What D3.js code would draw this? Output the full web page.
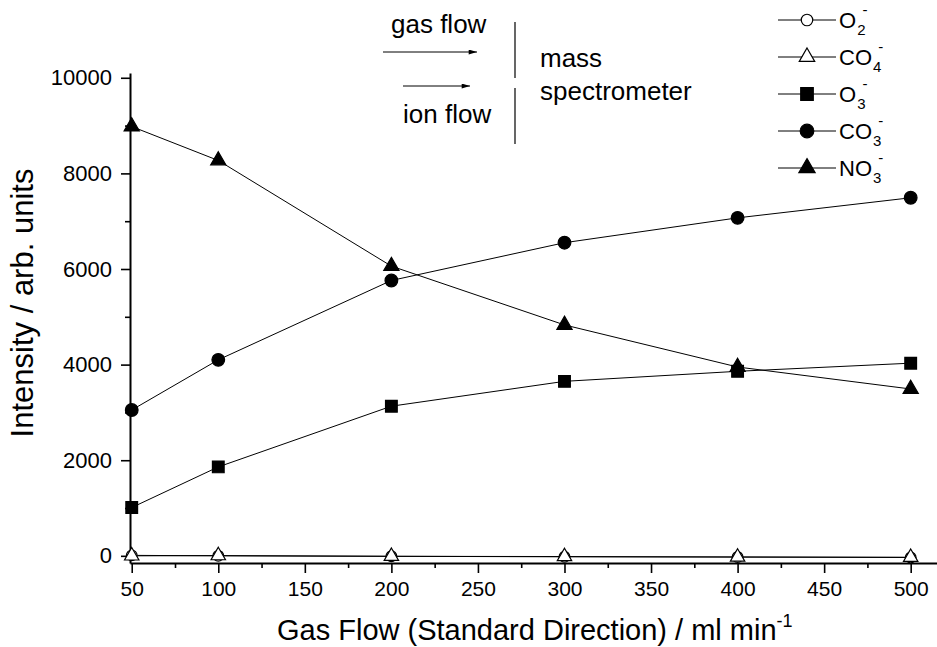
<!DOCTYPE html>
<html>
<head>
<meta charset="utf-8">
<script src="https://cdn.jsdelivr.net/npm/d3@7"></script>
<style>
  body { margin: 0; background: #fff; }
  text { font-family: "Liberation Sans", Arial, sans-serif; fill: #000; }
</style>
</head>
<body>
<div id="chart"></div>
<script>
// data
var gasFlow = [50, 100, 200, 300, 400, 500];
var o2  = [10, 0, -10, -20, -25, -35];
var co4 = [0, 5, -10, -15, -25, -30];
var o3  = [1010, 1860, 3130, 3650, 3860, 4030];
var co3 = [3050, 4100, 5760, 6550, 7070, 7490];
var no3 = [8980, 8270, 6060, 4830, 3950, 3490];

var xMajor = [50, 100, 150, 200, 250, 300, 350, 400, 450, 500];
var xMinor = [75, 125, 175, 225, 275, 325, 375, 425, 475];
var yMajor = [0, 2000, 4000, 6000, 8000, 10000];
var yMinor = [1000, 3000, 5000, 7000, 9000];

var width = 937, height = 647;

var svg = d3.select("#chart").append("svg")
    .attr("width", width)
    .attr("height", height);

var x = d3.scaleLinear().domain([49, 515.2]).range([130, 937]);
var y = d3.scaleLinear().domain([-150, 10100]).range([563, 73]);

// series in legend order
var series = [
  {name: "O",  sub: "2", sym: d3.symbolCircle,   size: 90,  filled: false, values: o2},
  {name: "CO", sub: "4", sym: d3.symbolTriangle, size: 90,  filled: false, values: co4},
  {name: "O",  sub: "3", sym: d3.symbolSquare,   size: 137, filled: true,  values: o3},
  {name: "CO", sub: "3", sym: d3.symbolCircle,   size: 126, filled: true,  values: co3},
  {name: "NO", sub: "3", sym: d3.symbolTriangle, size: 100, filled: true,  values: no3}
];

// axes
var xAxis = svg.append("g")
    .attr("transform", "translate(0," + y.range()[0] + ")")
    .call(d3.axisBottom(x).tickValues(xMajor).tickSize(10).tickSizeOuter(0).tickPadding(8));
xAxis.selectAll(".tick text").style("font-size", "21px");

svg.append("g")
    .attr("transform", "translate(0," + y.range()[0] + ")")
    .call(d3.axisBottom(x).tickValues(xMinor).tickSize(5).tickSizeOuter(0).tickFormat(""))
    .select(".domain").remove();

var yAxis = svg.append("g")
    .attr("transform", "translate(" + x.range()[0] + ",0)")
    .call(d3.axisLeft(y).tickValues(yMajor).tickSize(9).tickSizeOuter(0).tickPadding(9).tickFormat(d3.format("d")));
yAxis.selectAll(".tick text").style("font-size", "22px");

svg.append("g")
    .attr("transform", "translate(" + x.range()[0] + ",0)")
    .call(d3.axisLeft(y).tickValues(yMinor).tickSize(5).tickSizeOuter(0).tickFormat(""))
    .select(".domain").remove();

svg.selectAll(".domain").attr("stroke-width", 2);
svg.selectAll(".tick line").attr("stroke-width", 1.6);

// axis titles
var xt = svg.append("text")
    .attr("x", 277)
    .attr("y", 640)
    .style("font-size", "29px");
xt.append("tspan").text("Gas Flow (Standard Direction) / ml min");
xt.append("tspan").attr("dy", -13).style("font-size", "18px").text("-1");

svg.append("text")
    .attr("transform", "translate(33,303) rotate(-90)")
    .attr("text-anchor", "middle")
    .style("font-size", "31px")
    .text("Intensity / arb. units");

// lines and markers
var line = d3.line()
    .x(function(d, i) { return x(gasFlow[i]); })
    .y(function(d) { return y(d); });

series.forEach(function(s) {
  svg.append("path")
      .datum(s.values)
      .attr("d", line)
      .attr("fill", "none")
      .attr("stroke", "#000")
      .attr("stroke-width", 1);
});

series.forEach(function(s) {
  svg.selectAll(null)
      .data(s.values)
    .enter().append("path")
      .attr("d", d3.symbol().type(s.sym).size(s.size))
      .attr("transform", function(d, i) { return "translate(" + x(gasFlow[i]) + "," + y(d) + ")"; })
      .attr("fill", s.filled ? "#000" : "#fff")
      .attr("stroke", "#000")
      .attr("stroke-width", 1.2);
});

// legend
var legend = svg.append("g").attr("transform", "translate(778,20)");
series.forEach(function(s, i) {
  var g = legend.append("g").attr("transform", "translate(0," + (i * 37) + ")");
  g.append("line").attr("x1", 0).attr("x2", 58).attr("y1", 0).attr("y2", 0)
      .attr("stroke", "#000").attr("stroke-width", 1);
  g.append("path")
      .attr("d", d3.symbol().type(s.sym).size(s.size * 1.15))
      .attr("transform", "translate(29,0)")
      .attr("fill", s.filled ? "#000" : "#fff")
      .attr("stroke", "#000")
      .attr("stroke-width", 1.2);
  var t = g.append("text").attr("x", 61).attr("y", 8).style("font-size", "22px");
  t.append("tspan").text(s.name);
  t.append("tspan").attr("dy", 7).attr("dx", 1).style("font-size", "15px").text(s.sub);
  t.append("tspan").attr("dy", -20).attr("dx", -3).style("font-size", "15px").text("-");
});

// inset sketch
svg.append("defs").append("marker")
    .attr("id", "arrow")
    .attr("viewBox", "0 0 10 6")
    .attr("refX", 10).attr("refY", 3)
    .attr("markerWidth", 10).attr("markerHeight", 5)
    .attr("markerUnits", "userSpaceOnUse")
    .attr("orient", "auto")
  .append("path").attr("d", "M0,0L10,3L0,6Z").attr("fill", "#000");

svg.append("line").attr("x1", 383).attr("x2", 477).attr("y1", 52).attr("y2", 52)
    .attr("stroke", "#000").attr("stroke-width", 1).attr("marker-end", "url(#arrow)");
svg.append("line").attr("x1", 403).attr("x2", 470).attr("y1", 86).attr("y2", 86)
    .attr("stroke", "#000").attr("stroke-width", 1).attr("marker-end", "url(#arrow)");
svg.append("line").attr("x1", 515).attr("x2", 515).attr("y1", 22).attr("y2", 78)
    .attr("stroke", "#000").attr("stroke-width", 1.2);
svg.append("line").attr("x1", 515).attr("x2", 515).attr("y1", 88).attr("y2", 144)
    .attr("stroke", "#000").attr("stroke-width", 1.2);

svg.append("text").attr("x", 391).attr("y", 33).style("font-size", "26px").text("gas flow");
svg.append("text").attr("x", 403).attr("y", 123).style("font-size", "26px").text("ion flow");
svg.append("text").attr("x", 540).attr("y", 67).style("font-size", "26px").text("mass");
svg.append("text").attr("x", 540).attr("y", 100).style("font-size", "26px").text("spectrometer");
</script>
</body>
</html>
